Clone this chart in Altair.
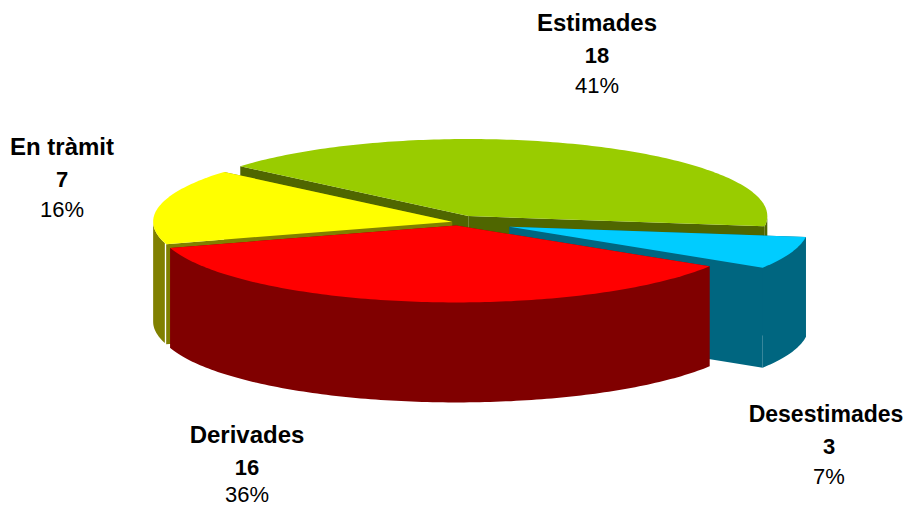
import math
import altair as alt

# Chart values
categories = ["Estimades", "Desestimades", "En tràmit", "Derivades"]
values = [18, 3, 7, 16]
top_colors = ["#99CC00", "#00CCFF", "#FFFF00", "#FF0000"]
wall_colors = ["#4F6600", "#006680", "#808000", "#800000"]
explode = [0.085, 0.183, 0.02, 0.045]
name_x = [589, 818, 54, 239]
line_x = [589, 821, 54, 239]
label_y = [16, 407, 140, 428]
name_sizes = [24, 23, 24, 24]
pct_gap = [62, 62, 62, 59]

# Pie layout
CX, CY = 450, 214
RX, RY, DEPTH = 299, 77, 100
START = 139.7
ORDER = ["Estimades", "Desestimades", "Derivades", "En tràmit"]
TOTAL = sum(values)

spans = {}
a = START
for name in ORDER:
    sweep = values[categories.index(name)] / TOTAL * 360
    spans[name] = (a, a - sweep)
    a -= sweep


def pt(c, t, dz=0):
    r = math.radians(t)
    return [c[0] + RX * math.cos(r), c[1] - RY * math.sin(r) + dz]


def arc(c, t0, t1, dz=0):
    n = max(2, int(abs(t0 - t1)))
    return [pt(c, t0 + (t1 - t0) * i / n, dz) for i in range(n + 1)]


def feature(ring, color):
    ring = ring + [ring[0]]
    return {
        "type": "Feature",
        "geometry": {"type": "Polygon", "coordinates": [ring]},
        "properties": {"color": color},
    }


features = []
for name in ["Estimades", "Desestimades", "En tràmit", "Derivades"]:
    i = categories.index(name)
    t0, t1 = spans[name]
    mid = math.radians((t0 + t1) / 2)
    c = (CX + explode[i] * RX * math.cos(mid), CY - explode[i] * RY * math.sin(mid))
    wall = wall_colors[i]
    apex_low = [c[0], c[1] + DEPTH]
    # radial walls
    for t in (t0, t1):
        features.append(feature([list(c), pt(c, t), pt(c, t, DEPTH), apex_low], wall))
    # outer wall: only the part facing the viewer
    if name == "En tràmit":
        w0, w1 = -180.0, t0 - 0.9
        features.append(feature(arc(c, w0, w1) + arc(c, w1, w0, DEPTH), wall))
    elif name == "Estimades":
        features.append(feature(arc(c, 0, t1) + arc(c, t1, 0, DEPTH), wall))
    else:
        features.append(feature(arc(c, t0, t1) + arc(c, t1, t0, DEPTH), wall))
    # top face
    features.append(feature([list(c)] + arc(c, t0, t1), top_colors[i]))

pie = (
    alt.Chart(alt.InlineData(values=features, format=alt.DataFormat(type="json")))
    .mark_geoshape(strokeWidth=0)
    .encode(fill=alt.Color("properties.color:N", scale=None))
    .project(type="identity", scale=1, translate=[0, 0])
)


def text_layer(rows, weight, size):
    return (
        alt.Chart(alt.Data(values=rows))
        .mark_text(font="Liberation Sans", fontWeight=weight, fontSize=size, color="#000000",
                   align="center", baseline="middle")
        .encode(longitude="lon:Q", latitude="lat:Q", text="t:N")
        .project(type="identity", scale=1, translate=[0, 0])
    )


layers = [pie]
value_rows, pct_rows = [], []
for i, name in enumerate(categories):
    layers.append(text_layer([{"t": name, "lon": name_x[i], "lat": label_y[i]}], "bold", name_sizes[i]))
    value_rows.append({"t": str(values[i]), "lon": line_x[i], "lat": label_y[i] + 32})
    pct_rows.append({"t": f"{round(values[i] / TOTAL * 100)}%", "lon": line_x[i], "lat": label_y[i] + pct_gap[i]})
layers.append(text_layer(value_rows, "bold", 22))
layers.append(text_layer(pct_rows, "normal", 22))

chart = (
    alt.layer(*layers)
    .properties(width=896, height=499, padding=0, autosize=alt.AutoSizeParams(type="none"))
    .configure_view(stroke=None)
)
chart.save("out.html", embed_options={"renderer": "svg", "actions": False})
